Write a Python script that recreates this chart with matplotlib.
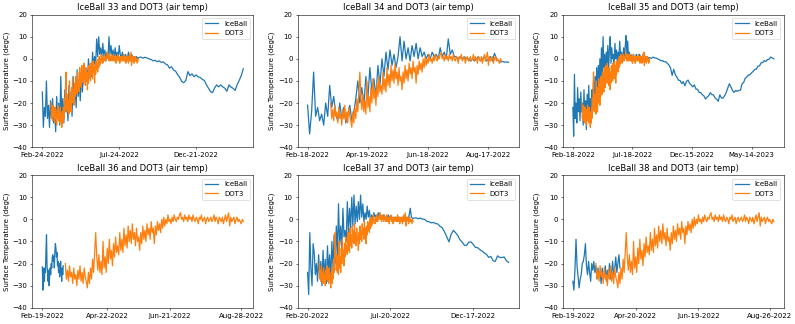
import numpy as np
import matplotlib
matplotlib.use('Agg')
import matplotlib.pyplot as plt
import matplotlib.dates as mdates

#DOT3 air temperature, daily from Mar-13-2022
dot3_start = '2022-03-13'
dot3_temp = [-20, -27, -23, -28, -21, -26, -24, -29, -22, -27,
             -25, -30, -23, -27, -21, -28, -24, -29, -22, -26,
             -28, -31, -24, -29, -22, -27, -18, -24, -15, -6,
             -17, -23, -16, -24, -19, -25, -10, -22, -17, -24,
             -13, -20, -9, -18, -14, -21, -11, -17, -8, -15,
             -12, -16, -6, -14, -9, -15, -4, -12, -7, -13,
             -3, -10, -5, -11, -2, -9, -6, -12, -4, -10,
             -8, -14, -6, -11, -3, -9, -5, -10, -2, -7,
             -4, -9, -1, -6, -4, -11, -3, -7, -1, -5,
             -2, -6, 0, -4, 1, -3, 0, -2, 2, -1,
             0, -2, 1, -1, 2, 0, -1, 1, 0, 2,
             3, 0, 1, -1, 2, 0, 1, -1, 2, 0,
             1, -1, 2, 0, -1, 1, 0, -2, 1, 0,
             2, -1, 0, 1, -2, 0, 1, -1, 0, 1,
             -1, 0, 2, -1, 1, 0, -2, 1, 0, -1,
             1, -2, 0, 2, -1, 1, 3, -3, 1, -1,
             0, 1, -2, 0, 1, -1, 0, -1, -2, 0,
             -1]

#IceBall 33: every 2 days from Feb-24-2022, then every 4 days
ib33_start = '2022-02-24'
ib33_early = [-15, -31, -22, -26, -10, -27, -21, -31, -19, -27,
              -18, -29, -22, -33, -17, -27, -20, -30, -8, -26, -18, -29, -14, -24, -20, -28,
              -12, -23, -15, -26, -8, -20, -13, -22, -5, -17, -10, -19, -6, -15, -9,
              -3, -12, -5, -10, 0, -7, -2, -8, 3, -4, 1, -3,
              9, 1, 10, 2, 5, 0, 7, 1, 4, -1, 3, 0, 10, 2, 6, 1, 4, 0, 5, 1, 3, 0, 6,
              2, 0, 3, 1, 0, 2, 1, 0, 3, 1, 0, 2, 1, 0, 1, 0, 1, 0]
ib33_late = [0.5, 0.8, 0.3, 0.7, 0.4, 0.0, -0.3, -0.9, -0.7, -1.3,
             -0.9, -1.6, -1.4, -2.3, -2.7, -4.2, -3.6, -5.1, -5.6, -7.2,
             -8.4, -10.3, -10.8, -9.7, -5.8, -7.6, -6.8, -8.1, -7.3, -8.2,
             -8.4, -9.3, -9.8, -11.7, -13.3, -14.8, -15.3, -13.2, -11.8, -12.7,
             -11.8, -12.7, -13.3, -14.7, -11.8, -12.8, -13.3, -14.3, -11.7, -9.8,
             -7.6, -4.5]

#IceBall 34: every 2 days from Feb-18-2022
ib34_start = '2022-02-18'
ib34_temp = [-21, -34, -24, -6, -26, -22, -28, -25, -30, -20,
             -26, -12, -22, -17, -25, -28, -20, -27, -22, -29,
             -25, -21, -28, -24, -18, -10, -20, -13, -21, -8,
             -18, -4, -15, -9, -17, -3, -12, 0, -8, 3,
             -5, 4, -3, 2, -4, 1, 10, -1, 8, 0,
             5, -1, 6, 1, 7, 0, 5, 1, 3, 0,
             2, 0, 3, 1, 2, 0, 5, 1, 3, 0,
             9, 2, 4, 1, 1, 0, 1, 0, 1, 0,
             0, -1, 0, -1, 0, 1, -1, 0, 1, -1,
             0, 1, -1, 2.5, 0, -1, -1.5, -1.2, -1.5, -1.4,
             -1.6]

#IceBall 35: every 2 days from Feb-18-2022, then every 4 days
ib35_start = '2022-02-18'
ib35_early = [-22, -35, -7, -27, -20, -29, -13, -24, -18, -28,
              -15, -24, -20, -30, -14, -26, -19, -32, -16, -27,
              -12, -25, -18, -29, -14, -22, -10, -20, -8, -18,
              -4, -15, -3, -13, 0, -10, 5, -8, 10, -4,
              2, -6, 3, -3, 6, -5, 4, 10, -2, 5,
              0, 2, -3, 7, 0, 4, -1, 3, 0, 8,
              1, 3, 0, 2, 5, 0, 6, 10.5, 2, 8,
              1, 3, 0, 2, 1, 0, 2, 1, 0, 1,
              2, 0, 1, 0, 2, 1, 0, 1, 0, 1,
              2, 0, 1, 0, 1, 0, 0.5]
ib35_late = [0.5, 0.2, 0.8, 0.4, 0.3, -0.1, -0.4, -0.9, -0.8, -1.4,
             -1.3, -2.1, -2.8, -4.2, -7.5, -4.8, -7.2, -8.3, -9.7, -9.8,
             -11.2, -10.3, -12.2, -10.3, -9.6, -11.2, -11.8, -12.7, -11.8, -13.7,
             -13.8, -15.2, -15.3, -16.2, -16.8, -18.2, -17.3, -16.7, -15.3, -16.2,
             -16.3, -17.7, -18.3, -19.2, -16.3, -17.7, -17.8, -16.7, -15.3, -13.2,
             -11.3, -12.7, -14.3, -15.2, -14.3, -14.7, -14.3, -14.2, -11.3, -10.7,
             -8.8, -8.2, -7.3, -7.2, -6.3, -5.7, -4.8, -4.7, -3.3, -3.2,
             -1.8, -1.7, -0.8, -1.2, -0.3, -0.2, 0.8, 0.4, 0.0]

#IceBall 36: every 12 hours from Feb-19-2022
ib36_start = '2022-02-19'
ib36_temp = [-21.5, -32, -25, -22, -28, -22, -24, -14, -7, -21,
             -24, -28, -23, -30, -26, -22, -25, -20, -22, -17,
             -16, -19, -17, -22, -14, -11, -13, -17, -15, -21,
             -19, -24, -20, -26, -22, -19, -24, -28, -22, -25,
             -21]

#IceBall 37: every 2 days from Feb-20-2022, then every 4 days
ib37_start = '2022-02-20'
ib37_early = [-24, -34, -6, -22, -30, -11, -15, -25, -20, -28,
              -16, -26, -19, -30, -14, -27, -18, -29, -12, -24,
              -16, -27, -10, -22, -7, -20, -3, -16, 7, -12,
              -3, -14, 5, -8, -5, -10, 8, -6, 5, -4,
              10, -3, 11, -2, 6, -1, 8, 0, 11, 1,
              7, -1, 3, 0, 6, 1, 4, -1, 2, 0,
              3, 1, 2, 0, 3, 1, 2, 0, 1, 2,
              0, 1, 0, 2, 1, 0, 1, 0, 1, 0,
              1, -1, 0, 1, 0, -1, 1, 0, 1, 0,
              1, 0, 2, 5, 1, 0.5]
ib37_late = [0.5, 0.7, 0.3, 0.6, 0.1, 0.0, -0.9, -1.1, -1.6, -1.4,
             -1.9, -2.1, -3.2, -3.8, -5.7, -7.8, -10.2, -6.8, -5.0, -6.0,
             -7.3, -9.2, -10.3, -11.7, -11.8, -10.3, -10.2, -11.3, -12.7, -12.8,
             -13.7, -14.3, -15.2, -15.8, -17.2, -16.8, -18.7, -19.0, -16.5, -17.2,
             -17.3, -17.0, -18.7, -19.5]

#IceBall 38: daily from Feb-19-2022
ib38_start = '2022-02-19'
ib38_temp = [-28, -32, -23, -9, -21, -26, -31, -27, -25, -20,
             -19, -16, -11, -21, -25, -19, -24, -28, -20, -23,
             -19, -24, -21, -27, -22, -26, -24, -29, -22, -27,
             -25, -21, -28, -23, -26, -20, -27, -24, -19, -26,
             -22, -17, -24, -20, -16, -22]

def make_dates(start, step, n, offset = 0):
    '''
    Timestamps every step days (may be fractional) beginning offset days after start
    '''
    hours = (offset + np.arange(n) * step) * 24
    return np.datetime64(start) + hours.astype('timedelta64[h]')

def iceball_series(start, early, late = None, early_step = 2, late_step = 4):
    '''
    Join the frequently sampled part with the sparser part that follows it
    '''
    t = make_dates(start, early_step, len(early))
    v = list(early)
    if late is not None:
        t_late = make_dates(start, late_step, len(late), offset = len(early) * early_step)
        t = np.concatenate([t, t_late])
        v = v + list(late)
    return t, np.array(v)

dot3_t = make_dates(dot3_start, 1, len(dot3_temp))

panels = [
    ('33', iceball_series(ib33_start, ib33_early, ib33_late), ['2022-02-24', '2022-07-24', '2022-12-21']),
    ('34', iceball_series(ib34_start, ib34_temp), ['2022-02-18', '2022-04-19', '2022-06-18', '2022-08-17']),
    ('35', iceball_series(ib35_start, ib35_early, ib35_late), ['2022-02-18', '2022-07-18', '2022-12-15', '2023-05-14']),
    ('36', iceball_series(ib36_start, ib36_temp, early_step = 0.5), ['2022-02-19', '2022-04-22', '2022-06-21', '2022-08-28']),
    ('37', iceball_series(ib37_start, ib37_early, ib37_late), ['2022-02-20', '2022-07-20', '2022-12-17']),
    ('38', iceball_series(ib38_start, ib38_temp, early_step = 1), ['2022-02-19', '2022-04-20', '2022-06-19', '2022-08-26']),
]

plt.rcParams['lines.linewidth'] = 1.8

fig, axes = plt.subplots(2, 3, figsize = (15.9, 6.48), dpi = 50)
fig.subplots_adjust(left = 0.0406, right = 0.986, top = 0.955, bottom = 0.05, wspace = 0.2, hspace = 0.21)

for ax, (num, (t, v), ticks) in zip(axes.flat, panels):
    ax.plot(t, v, label = 'IceBall')
    ax.plot(dot3_t, dot3_temp, label = 'DOT3')
    ax.set_ylim(-40, 20)
    ax.set_xticks([np.datetime64(d) for d in ticks])
    ax.xaxis.set_major_formatter(mdates.DateFormatter('%b-%d-%Y'))
    ax.set_title('IceBall {0} and DOT3 (air temp)'.format(num), size = 12)
    ax.set_ylabel('Surface Temperature (degC)')
    ax.legend(loc = 'upper right')

fig.savefig('out.png', dpi = 50)
